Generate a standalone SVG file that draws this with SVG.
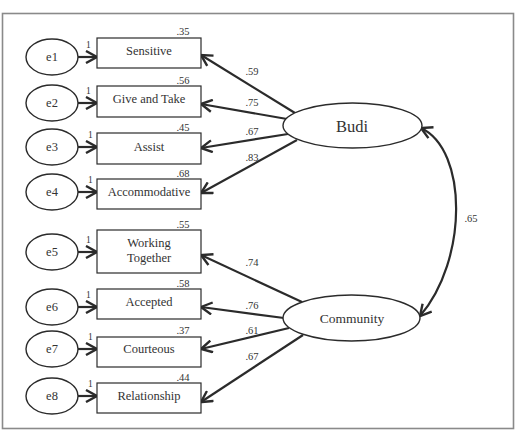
<svg xmlns="http://www.w3.org/2000/svg" width="516" height="432" viewBox="0 0 516 432">
<style>
.frame{fill:#fff;stroke:#8a8a8a;stroke-width:1.6}
.el{fill:#fff;stroke:#2b2b2b;stroke-width:1.4}
.box{fill:#fff;stroke:#2b2b2b;stroke-width:1.2}
.t{font-family:"Liberation Serif","Times New Roman",serif;fill:#333;text-anchor:middle}
.node{font-size:12.5px}
.lat{font-size:13.5px}
.num{font-size:10.5px}
.one{font-size:9.5px;text-anchor:start}
.c{fill:none;stroke:#2b2b2b;stroke-width:2.2}
</style>
<defs>
<marker id="ah" markerUnits="userSpaceOnUse" markerWidth="14" markerHeight="14" viewBox="0 0 14 14" refX="12" refY="7" orient="auto-start-reverse">
<path d="M1,1 L12,7 L1,13" fill="none" stroke="#2b2b2b" stroke-width="2.4"/>
</marker>
</defs>
<rect class="frame" x="2.5" y="13.5" width="511" height="415"/>

<g id="connectors">
<line class="c" x1="78" y1="57" x2="97" y2="57" marker-end="url(#ah)"/>
<line class="c" x1="78" y1="103" x2="97" y2="103" marker-end="url(#ah)"/>
<line class="c" x1="78" y1="147" x2="97" y2="147" marker-end="url(#ah)"/>
<line class="c" x1="78" y1="192" x2="97" y2="192" marker-end="url(#ah)"/>
<line class="c" x1="78" y1="252" x2="97" y2="252" marker-end="url(#ah)"/>
<line class="c" x1="78" y1="307" x2="97" y2="307" marker-end="url(#ah)"/>
<line class="c" x1="78" y1="349" x2="97" y2="349" marker-end="url(#ah)"/>
<line class="c" x1="78" y1="396" x2="97" y2="396" marker-end="url(#ah)"/>

<line class="c" x1="295" y1="113" x2="201" y2="55" marker-end="url(#ah)"/>
<line class="c" x1="287" y1="119" x2="201" y2="104" marker-end="url(#ah)"/>
<line class="c" x1="288" y1="134" x2="201" y2="148" marker-end="url(#ah)"/>
<line class="c" x1="297" y1="140" x2="201" y2="193" marker-end="url(#ah)"/>

<line class="c" x1="302" y1="302" x2="201" y2="255" marker-end="url(#ah)"/>
<line class="c" x1="284" y1="318" x2="201" y2="307" marker-end="url(#ah)"/>
<line class="c" x1="289" y1="328" x2="201" y2="349" marker-end="url(#ah)"/>
<line class="c" x1="303" y1="335" x2="201" y2="402" marker-end="url(#ah)"/>

<path class="c" d="M421,128 C468,150 468,260 420,316" marker-start="url(#ah)" marker-end="url(#ah)"/>

<text class="t one" x="86" y="48">1</text>
<text class="t one" x="86" y="94">1</text>
<text class="t one" x="88" y="138">1</text>
<text class="t one" x="88" y="183">1</text>
<text class="t one" x="86" y="243">1</text>
<text class="t one" x="86" y="298">1</text>
<text class="t one" x="88" y="340">1</text>
<text class="t one" x="88" y="387">1</text>

<text class="t num" x="252" y="75">.59</text>
<text class="t num" x="252" y="106">.75</text>
<text class="t num" x="252" y="135">.67</text>
<text class="t num" x="252" y="161">.83</text>
<text class="t num" x="252" y="266">.74</text>
<text class="t num" x="252" y="309">.76</text>
<text class="t num" x="252" y="334">.61</text>
<text class="t num" x="252" y="360">.67</text>
<text class="t num" x="471" y="222">.65</text>
</g>

<g id="e1"><ellipse class="el" cx="52" cy="57" rx="26" ry="18"/><text class="t node" x="52" y="61">e1</text></g>
<g id="e2"><ellipse class="el" cx="52" cy="103" rx="26" ry="18"/><text class="t node" x="52" y="107">e2</text></g>
<g id="e3"><ellipse class="el" cx="52" cy="147" rx="26" ry="18"/><text class="t node" x="52" y="151">e3</text></g>
<g id="e4"><ellipse class="el" cx="52" cy="192" rx="26" ry="18"/><text class="t node" x="52" y="196">e4</text></g>
<g id="e5"><ellipse class="el" cx="52" cy="252" rx="26" ry="18"/><text class="t node" x="52" y="256">e5</text></g>
<g id="e6"><ellipse class="el" cx="52" cy="307" rx="26" ry="18"/><text class="t node" x="52" y="311">e6</text></g>
<g id="e7"><ellipse class="el" cx="52" cy="349" rx="26" ry="18"/><text class="t node" x="52" y="353">e7</text></g>
<g id="e8"><ellipse class="el" cx="52" cy="396" rx="26" ry="18"/><text class="t node" x="52" y="400">e8</text></g>

<g id="sensitive"><rect class="box" x="97" y="38" width="104" height="30"/><text class="t node" x="149" y="55">Sensitive</text><text class="t num" x="183" y="35">.35</text></g>
<g id="giveandtake"><rect class="box" x="97" y="86" width="104" height="31"/><text class="t node" x="149" y="103">Give and Take</text><text class="t num" x="183" y="84">.56</text></g>
<g id="assist"><rect class="box" x="97" y="133" width="104" height="31"/><text class="t node" x="149" y="151">Assist</text><text class="t num" x="183" y="131">.45</text></g>
<g id="accommodative"><rect class="box" x="97" y="179" width="104" height="30"/><text class="t node" x="149" y="196">Accommodative</text><text class="t num" x="183" y="177">.68</text></g>
<g id="workingtogether"><rect class="box" x="97" y="230" width="104" height="43"/><text class="t node" x="149" y="247">Working</text><text class="t node" x="149" y="262">Together</text><text class="t num" x="183" y="228">.55</text></g>
<g id="accepted"><rect class="box" x="97" y="289" width="104" height="30"/><text class="t node" x="149" y="306">Accepted</text><text class="t num" x="183" y="287">.58</text></g>
<g id="courteous"><rect class="box" x="97" y="337" width="104" height="30"/><text class="t node" x="149" y="353">Courteous</text><text class="t num" x="183" y="334">.37</text></g>
<g id="relationship"><rect class="box" x="97" y="383" width="104" height="30"/><text class="t node" x="149" y="400">Relationship</text><text class="t num" x="183" y="381">.44</text></g>

<g id="budi"><ellipse class="el" cx="352.5" cy="125.5" rx="69.5" ry="22.5"/><text class="t" style="font-size:16.5px" x="352" y="132">Budi</text></g>
<g id="community"><ellipse class="el" cx="351.5" cy="318" rx="68.5" ry="23"/><text class="t lat" x="352" y="323">Community</text></g>
</svg>
